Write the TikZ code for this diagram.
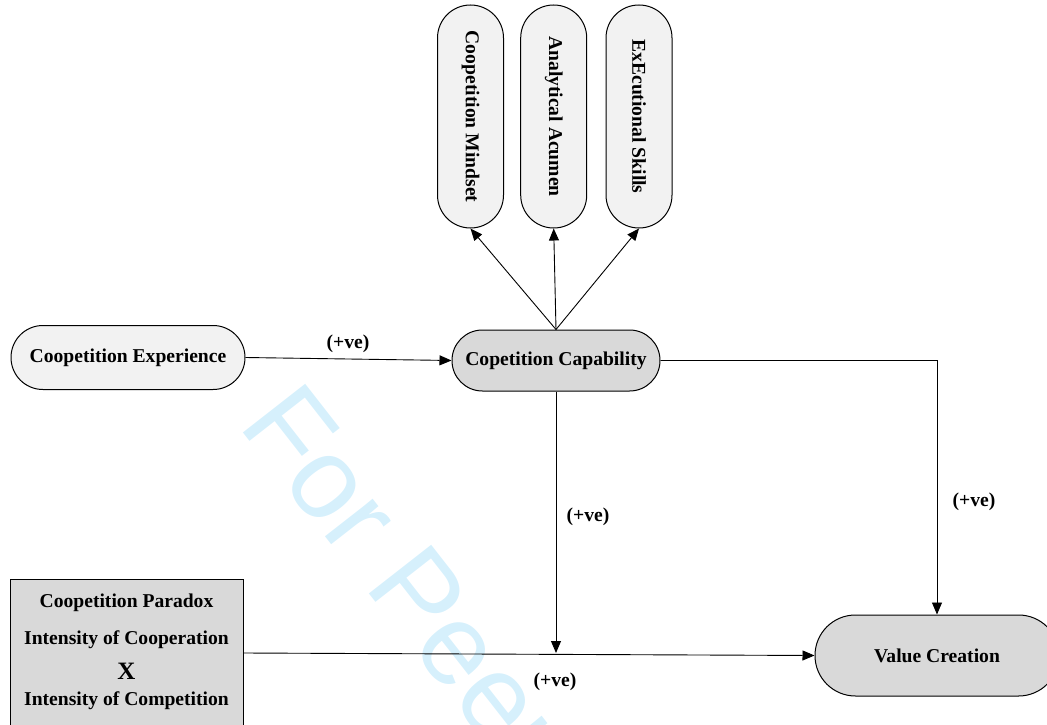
\documentclass[tikz,border=0pt]{standalone}
\usepackage{fontspec}
\setmainfont{Liberation Serif}
\newfontfamily\wmfont{Liberation Sans}
\usetikzlibrary{arrows.meta}
\definecolor{lightfill}{RGB}{242,242,242}
\definecolor{darkfill}{RGB}{217,217,217}
\definecolor{wmblue}{RGB}{214,240,252}
\tikzset{
  lbl/.style={font=\fontsize{19.6}{24}\selectfont\bfseries},
  pill/.style={draw=black, line width=1pt, lbl, inner sep=0pt, align=center},
  conn/.style={draw=black, line width=0.9pt, -{Triangle[length=12pt,width=10pt]}},
  plain/.style={draw=black, line width=0.9pt}
}
\begin{document}
\begin{tikzpicture}[x=1pt,y=-1pt]
\useasboundingbox (0,0) rectangle (1047,725);
% watermark
\node[anchor=base west, inner sep=0pt, rotate=-52, text=wmblue,
  font=\fontsize{115}{115}\selectfont\wmfont] (wm) at (237.5,425) {For Peer Review};
% top pills
\node[pill, fill=lightfill, minimum width=66pt, minimum height=223pt, rounded corners=32.9pt] (cm) at (470.5,116.5) {\rotatebox{-90}{Coopetition Mindset}};
\node[pill, fill=lightfill, minimum width=66pt, minimum height=223pt, rounded corners=32.9pt] (aa) at (553.7,116.5) {\rotatebox{-90}{Analytical Acumen}};
\node[pill, fill=lightfill, minimum width=66pt, minimum height=223pt, rounded corners=32.9pt] (es) at (639,116.5) {\rotatebox{-90}{ExEcutional Skills}};
% middle row
\node[pill, fill=lightfill, minimum width=234pt, minimum height=64pt, rounded corners=31.9pt] (exp) at (128,357.5) {Coopetition Experience};
\node[pill, fill=darkfill, minimum width=208pt, minimum height=61pt, rounded corners=30.4pt] (cap) at (556,360.5) {Copetition Capability};
% paradox box
\node[draw=black, line width=1pt, fill=darkfill, minimum width=233pt, minimum height=148pt, inner sep=0pt] (para) at (126.5,653) {};
\node[lbl] (pt1) at (126.5,603) {Coopetition Paradox};
\node[lbl] (pt2) at (126.5,640) {Intensity of Cooperation};
\node[font=\fontsize{25}{28}\selectfont\bfseries] (pt3) at (126.5,671) {X};
\node[lbl] (pt4) at (126.5,701) {Intensity of Competition};
% value creation
\node[pill, fill=darkfill, minimum width=244pt, minimum height=81pt, rounded corners=40.4pt] (vc) at (937,655.5) {Value Creation};
% connectors
\draw[conn] (cap.north) -- (cm.south);
\draw[conn] (cap.north) -- (aa.south);
\draw[conn] (cap.north) -- (es.south);
\draw[conn] (exp.east) -- (cap.west);
\coordinate (corner) at (937,360.5);
\draw[conn] (cap.east) -- (corner) -- (vc.north);
\draw[conn] (cap.south) -- (cap.south |- para.east);
\draw[conn] (para.east) -- (vc.west);
% labels
\node[lbl] (l1) at (348,344) {(+ve)};
\node[lbl] (l2) at (974,502) {(+ve)};
\node[lbl] (l3) at (588,517) {(+ve)};
\node[lbl] (l4) at (555,682) {(+ve)};
\end{tikzpicture}
\end{document}
